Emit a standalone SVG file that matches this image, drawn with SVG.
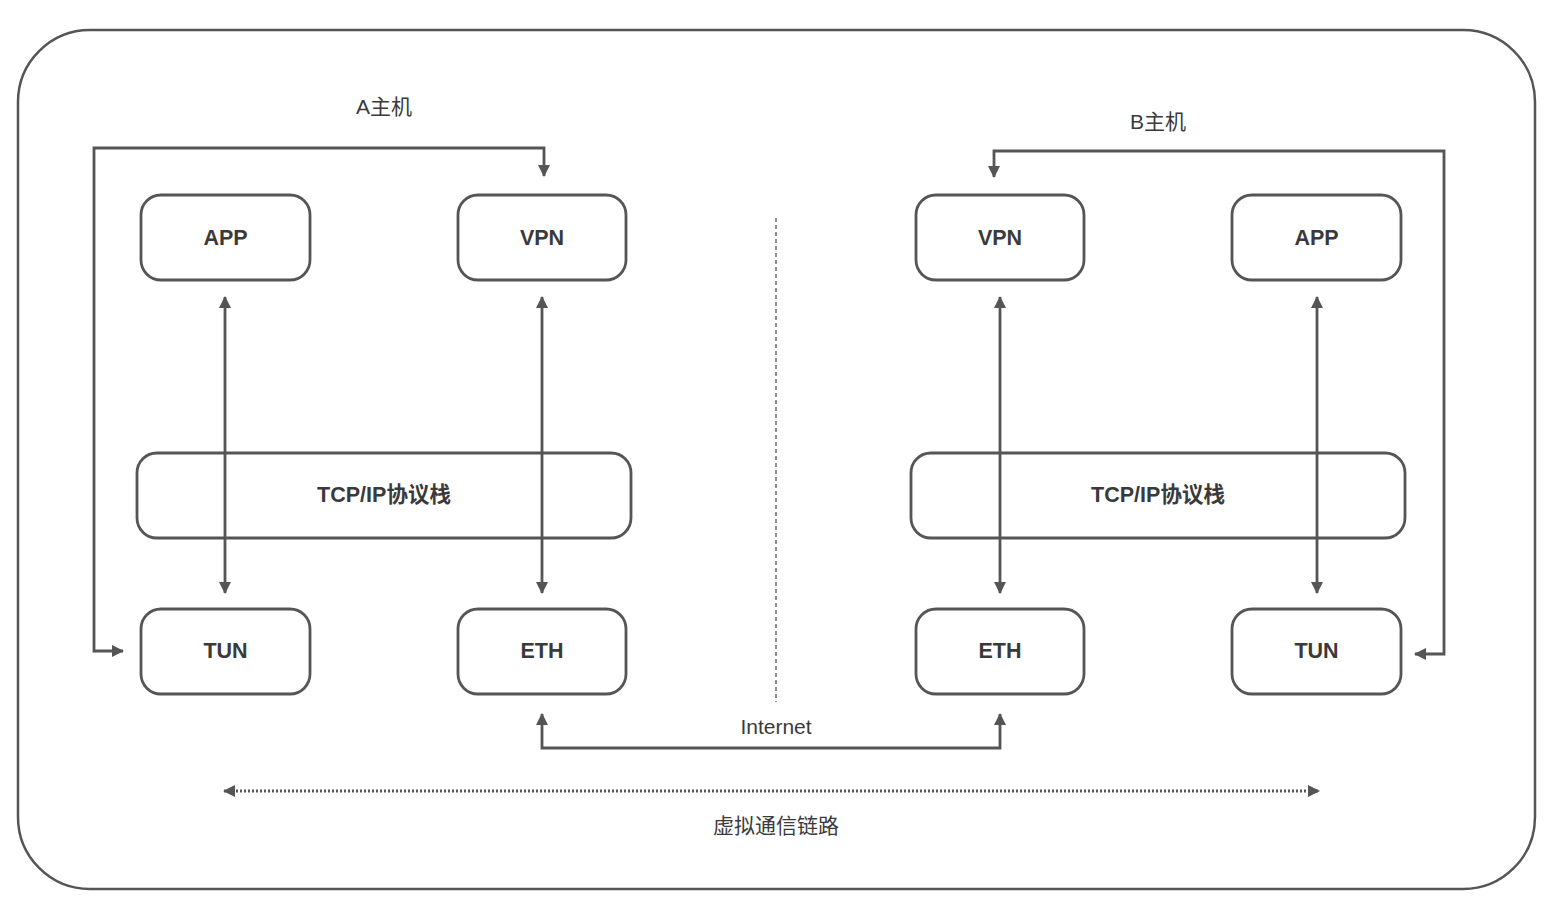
<svg xmlns="http://www.w3.org/2000/svg" width="1566" height="924" viewBox="0 0 1566 924">
<style>
.box{fill:#fff;stroke:#555;stroke-width:2.8}
.lbl{font-family:"Liberation Sans","Noto Sans CJK SC",sans-serif;font-size:21px;fill:#3a3a3a;text-anchor:middle;dominant-baseline:central}
.nd{font-weight:bold;font-size:21.5px}
.ln{fill:none;stroke:#555;stroke-width:2.8}
</style>
<defs>
<marker id="ah" viewBox="0 0 12 12" refX="11" refY="6" markerWidth="12" markerHeight="12" markerUnits="userSpaceOnUse" orient="auto-start-reverse">
<path d="M0,0 L12,6 L0,12 z" fill="#555"/>
</marker>
</defs>
<rect x="18" y="30" width="1517" height="859" rx="72" fill="#fff" stroke="#555" stroke-width="2.5"/>
<g id="labels">
<text class="lbl" x="384" y="106">A主机</text>
<text class="lbl" x="1158" y="121">B主机</text>
<text class="lbl" x="776" y="726">Internet</text>
<text class="lbl" x="776" y="825">虚拟通信链路</text>
</g>
<g id="nodeA_app"><rect class="box" x="141" y="195" width="169" height="85" rx="20"/><text class="lbl nd" x="225.5" y="238">APP</text></g>
<g id="nodeA_vpn"><rect class="box" x="458" y="195" width="168" height="85" rx="20"/><text class="lbl nd" x="542" y="238">VPN</text></g>
<g id="nodeA_tcp"><rect class="box" x="137" y="453" width="494" height="85" rx="20"/><text class="lbl nd" x="384" y="495">TCP/IP协议栈</text></g>
<g id="nodeA_tun"><rect class="box" x="141" y="609" width="169" height="85" rx="20"/><text class="lbl nd" x="225.5" y="651">TUN</text></g>
<g id="nodeA_eth"><rect class="box" x="458" y="609" width="168" height="85" rx="20"/><text class="lbl nd" x="542" y="651">ETH</text></g>
<g id="nodeB_vpn"><rect class="box" x="916" y="195" width="168" height="85" rx="20"/><text class="lbl nd" x="1000" y="238">VPN</text></g>
<g id="nodeB_app"><rect class="box" x="1232" y="195" width="169" height="85" rx="20"/><text class="lbl nd" x="1316.5" y="238">APP</text></g>
<g id="nodeB_tcp"><rect class="box" x="911" y="453" width="494" height="85" rx="20"/><text class="lbl nd" x="1158" y="495">TCP/IP协议栈</text></g>
<g id="nodeB_eth"><rect class="box" x="916" y="609" width="168" height="85" rx="20"/><text class="lbl nd" x="1000" y="651">ETH</text></g>
<g id="nodeB_tun"><rect class="box" x="1232" y="609" width="169" height="85" rx="20"/><text class="lbl nd" x="1316.5" y="651">TUN</text></g>
<g id="connectors">
<line class="ln" x1="225" y1="297" x2="225" y2="593" marker-start="url(#ah)" marker-end="url(#ah)"/>
<line class="ln" x1="542" y1="297" x2="542" y2="593" marker-start="url(#ah)" marker-end="url(#ah)"/>
<line class="ln" x1="1000" y1="297" x2="1000" y2="593" marker-start="url(#ah)" marker-end="url(#ah)"/>
<line class="ln" x1="1317" y1="297" x2="1317" y2="593" marker-start="url(#ah)" marker-end="url(#ah)"/>
<path class="ln" d="M123,651 L94,651 L94,148 L544,148 L544,176" marker-start="url(#ah)" marker-end="url(#ah)"/>
<path class="ln" d="M994,177 L994,151 L1444,151 L1444,654 L1415,654" marker-start="url(#ah)" marker-end="url(#ah)"/>
<path class="ln" d="M542,714 L542,748 L1000,748 L1000,714" marker-start="url(#ah)" marker-end="url(#ah)"/>
<line x1="776" y1="218" x2="776" y2="702" stroke="#555" stroke-width="1.3" stroke-dasharray="4 3"/>
<line x1="224" y1="791" x2="1319" y2="791" stroke="#555" stroke-width="3" stroke-dasharray="2 2" marker-start="url(#ah)" marker-end="url(#ah)"/>
</g>
</svg>
